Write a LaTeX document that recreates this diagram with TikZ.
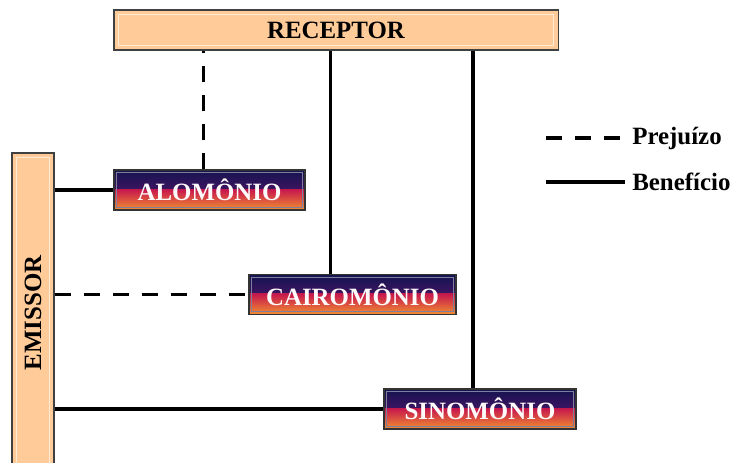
\documentclass[tikz,border=0pt]{standalone}
\usepackage{fontspec}
\setmainfont{Liberation Serif}
\usepackage{xcolor}
\usepackage{tikz}
\usetikzlibrary{calc}

\definecolor{peach}{HTML}{FFCC99}
\definecolor{navyband}{HTML}{141450}
\definecolor{violetband}{HTML}{3A1460}
\definecolor{redband}{HTML}{C81A4C}
\definecolor{orangeband}{HTML}{F29030}

\begin{document}
\begin{tikzpicture}[x=0.025cm, y=-0.025cm,
  partbox/.style={draw=black!75, line width=0.8pt, fill=peach, inner sep=0pt,
    font=\fontsize{17.7}{20}\selectfont\bfseries,
    path picture={\draw[white!60!peach, line width=0.8pt]
      ([shift={(3pt,-3pt)}]path picture bounding box.north west) rectangle
      ([shift={(-3pt,3pt)}]path picture bounding box.south east);}},
  chembox/.style={draw=black!80, line width=0.8pt, inner sep=0pt,
    minimum height=1cm, text=white!92!pink,
    font=\fontsize{17.7}{20}\selectfont\bfseries,
    path picture={
      % warm lower band, then the dark upper part
      \shade[bottom color=orangeband, top color=violetband, middle color=redband]
        (path picture bounding box.south west) rectangle
        ($(path picture bounding box.south east)!0.56!(path picture bounding box.north east)$);
      \shade[bottom color=violetband, top color=navyband]
        ($(path picture bounding box.south west)!0.54!(path picture bounding box.north west)$)
        rectangle (path picture bounding box.north east);
      \draw[white!45!navyband, line width=0.6pt]
        ([shift={(2pt,-2pt)}]path picture bounding box.north west) rectangle
        ([shift={(-2pt,2pt)}]path picture bounding box.south east);}},
  gain/.style={line width=2.2pt},
  harm/.style={line width=2.2pt, dash pattern=on 0.4cm off 0.325cm},
  legend/.style={anchor=west, inner sep=0pt, font=\fontsize{17.7}{20}\selectfont\bfseries}]
  \clip (0,0) rectangle (734,462);
  \fill[white] (0,0) rectangle (734,462);

  % the two partners
  \node[partbox, minimum width=11.1cm, minimum height=1cm] (receptor) at (336,30) {RECEPTOR};
  \node[partbox, minimum width=1.05cm, minimum height=8cm] (emissor) at (33,313)
    {\rotatebox{90}{EMISSOR}};

  % the three kinds of signal
  \node[chembox, minimum width=4.775cm] (alomonio)   at (209.5,190) {ALOMÔNIO};
  \node[chembox, minimum width=5.175cm] (cairomonio) at (352.5,294.5) {CAIROMÔNIO};
  \node[chembox, minimum width=4.8cm]   (sinomonio)  at (480,409) {SINOMÔNIO};

  % links to the receptor
  \draw[harm] ([xshift=-0.16cm]alomonio.north) -- ([xshift=-0.16cm]alomonio.north |- receptor.south);
  \draw[gain] ([xshift=-0.56cm]cairomonio.north) -- ([xshift=-0.56cm]cairomonio.north |- receptor.south);
  \draw[gain] ([xshift=-0.175cm]sinomonio.north) -- ([xshift=-0.175cm]sinomonio.north |- receptor.south);

  % links to the emitter
  \draw[gain] (emissor.east |- alomonio.west) -- (alomonio.west);
  \draw[harm] (emissor.east |- cairomonio.west) -- (cairomonio.west);
  \draw[gain] (emissor.east |- sinomonio.west) -- (sinomonio.west);

  % key
  \coordinate (harmkey) at (546,138);
  \coordinate (gainkey) at (546,182);
  \node[legend] (harmlbl) at (632,138) {Prejuízo};
  \node[legend] (gainlbl) at (632,182) {Benefício};
  \draw[harm] (harmkey) -- ([xshift=-0.18cm]harmlbl.west);
  \draw[gain] (gainkey) -- ([xshift=-0.18cm]gainlbl.west);
\end{tikzpicture}
\end{document}
